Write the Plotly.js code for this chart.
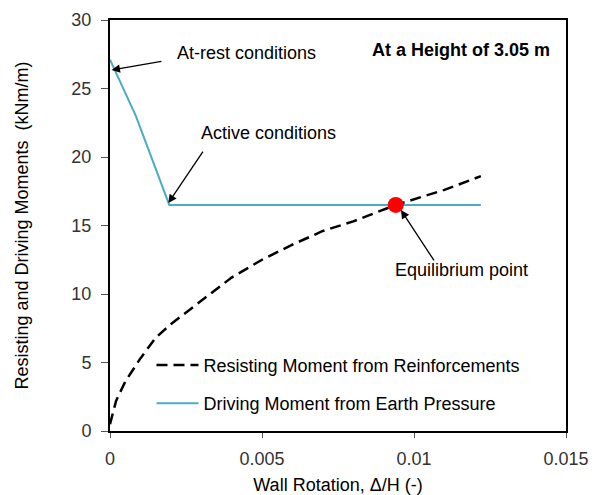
<!DOCTYPE html>
<html>
<head>
<meta charset="utf-8">
<script src="https://cdn.plot.ly/plotly-3.0.1.min.js"></script>
<style>html,body{margin:0;padding:0;background:#fff;}#chart{width:598px;height:495px;}</style>
</head>
<body>
<div id="chart"></div>
<script>
// Resisting moment from reinforcements (dashed black)
const resistX = [0, 0.0002, 0.0005, 0.001, 0.0015, 0.002, 0.003, 0.004, 0.005, 0.006, 0.007, 0.008, 0.0094, 0.011, 0.0122];
const resistY = [0.5, 2.2, 3.6, 5.3, 6.8, 7.8, 9.5, 11.2, 12.5, 13.6, 14.6, 15.3, 16.5, 17.6, 18.6];
// Driving moment from earth pressure (blue)
const driveX = [0, 0.00085, 0.00195, 0.0122];
const driveY = [27.1, 23.0, 16.5, 16.5];
// Equilibrium point
const eqX = [0.0094];
const eqY = [16.5];

const FONT = "Liberation Sans, Arial, sans-serif";
const FS = 18;

const traces = [
  {x: resistX, y: resistY, mode: 'lines', name: 'Resisting Moment from Reinforcements',
   line: {color: '#000', width: 2.5, dash: '11px,6px'}, legendgroup: 'a'},
  {x: driveX, y: driveY, mode: 'lines', name: 'Driving Moment from Earth Pressure',
   line: {color: '#4BACC6', width: 2}, legendgroup: 'b'},
  {x: eqX, y: eqY, mode: 'markers', showlegend: false,
   marker: {color: '#FF0000', size: 16}}
];

const arrowBase = {showarrow: true, arrowhead: 2, arrowsize: 1.3, arrowwidth: 1.3, arrowcolor: '#000',
  axref: 'x', ayref: 'y', text: ''};

const layout = {
  width: 598, height: 495,
  margin: {l: 110, r: 32, t: 20, b: 64},
  paper_bgcolor: '#fff', plot_bgcolor: '#fff',
  font: {family: FONT, size: FS, color: '#000'},
  showlegend: true,
  legend: {x: 0.091, y: 0.205, xanchor: 'left', yanchor: 'top', bgcolor: 'rgba(0,0,0,0)',
    itemwidth: 42,
    traceorder: 'grouped', tracegroupgap: 12, font: {family: FONT, size: FS, color: '#000'}},
  xaxis: {range: [0, 0.015], tickvals: [0, 0.005, 0.01, 0.015], ticktext: ['0', '0.005', '0.01', '0.015'],
    showgrid: false, zeroline: false, showline: true, mirror: true, linewidth: 2, linecolor: '#000',
    ticks: 'outside', ticklen: 5, tickwidth: 1, tickcolor: '#555', ticklabelstandoff: 5,
    tickfont: {family: FONT, size: FS, color: '#333'},
    title: {text: 'Wall Rotation, \u0394/H (-)', font: {family: FONT, size: FS, color: '#000'}, standoff: 12}},
  yaxis: {range: [0, 30], tickvals: [0, 5, 10, 15, 20, 25, 30],
    showgrid: false, zeroline: false, showline: true, mirror: true, linewidth: 2, linecolor: '#000',
    ticks: 'outside', ticklen: 7, tickwidth: 1, tickcolor: '#555', ticklabelstandoff: 6,
    tickfont: {family: FONT, size: FS, color: '#333'},
    title: {text: 'Resisting and Driving Moments  (kNm/m)', font: {family: FONT, size: FS, color: '#000'}, standoff: 38}},
  annotations: [
    Object.assign({}, arrowBase, {x: 0.00005, y: 26.35, ax: 0.00174, ay: 27.0}),
    Object.assign({}, arrowBase, {x: 0.00192, y: 16.64, ax: 0.00309, ay: 20.5}),
    Object.assign({}, arrowBase, {x: 0.00957, y: 16.13, ax: 0.01069, ay: 12.34}),
    {x: 0.00214, y: 27.6, xref: 'x', yref: 'y', text: 'At-rest conditions', showarrow: false, xanchor: 'left',
     font: {family: FONT, size: FS, color: '#000'}},
    {x: 0.0052, y: 21.75, xref: 'x', yref: 'y', text: 'Active conditions', showarrow: false,
     font: {family: FONT, size: FS, color: '#000'}},
    {x: 0.01155, y: 11.75, xref: 'x', yref: 'y', text: 'Equilibrium point', showarrow: false,
     font: {family: FONT, size: FS, color: '#000'}},
    {x: 0.969, y: 0.956, xref: 'paper', yref: 'paper', text: '<b>At a Height of 3.05 m</b>', showarrow: false,
     xanchor: 'right', font: {family: FONT, size: 18, color: '#000'}}
  ]
};

Plotly.newPlot('chart', traces, layout, {displayModeBar: false, staticPlot: true});
</script>
</body>
</html>
